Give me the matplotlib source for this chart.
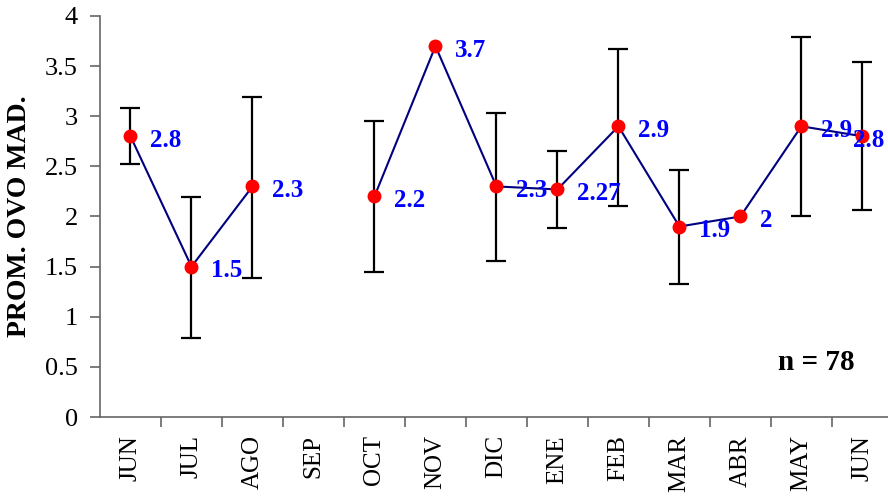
import numpy as np
import matplotlib
matplotlib.use('Agg')
import matplotlib.pyplot as plt

months = ['JUN', 'JUL', 'AGO', 'SEP', 'OCT', 'NOV', 'DIC', 'ENE',
          'FEB', 'MAR', 'ABR', 'MAY', 'JUN']
mean = [2.8, 1.5, 2.3, np.nan, 2.2, 3.7, 2.3, 2.27, 2.9, 1.9, 2.0, 2.9, 2.8]
low = [2.52, 0.79, 1.39, np.nan, 1.45, np.nan, 1.56, 1.89, 2.10, 1.33, np.nan, 2.0, 2.06]
high = [3.08, 2.19, 3.19, np.nan, 2.95, np.nan, 3.03, 2.65, 3.67, 2.46, np.nan, 3.79, 3.54]
labels = ['2.8', '1.5', '2.3', '', '2.2', '3.7', '2.3', '2.27', '2.9', '1.9', '2', '2.9', '2.8']
n_text = 'n = 78'

plt.rcParams['font.family'] = ['Liberation Serif', 'DejaVu Serif']

x = np.arange(len(months))
y = np.array(mean)
err = np.array([y - np.array(low), np.array(high) - y])

fig = plt.figure(figsize=(8.88, 4.98), dpi=100)
ax = fig.add_axes([100/888, 81/498, 1 - 100/888, 401/498])

ax.errorbar(x, y, yerr=err, fmt='none', ecolor='black', elinewidth=1.6,
            capsize=7, capthick=1.6, zorder=2)
ax.plot(x, y, color='#000080', lw=1.5, zorder=3)
ax.plot(x, y, 'o', color='red', ms=9, zorder=4)

for i, lab in enumerate(labels):
    if not lab:
        continue
    dx = 14 if i < len(labels) - 1 else -7
    ax.annotate(lab, (x[i], y[i]), xytext=(dx, -3), textcoords='offset points',
                ha='left', va='center', color='#0000ff', fontsize=18,
                fontweight='bold', zorder=5)

ax.text(0.86, 0.135, n_text, transform=ax.transAxes, ha='left', va='center',
        fontsize=21, fontweight='bold')

ax.set_xlim(-0.5, 12.42)
ax.set_ylim(0, 4)
ax.set_yticks(np.arange(0, 4.01, 0.5))
ax.set_yticklabels(['0', '0.5', '1', '1.5', '2', '2.5', '3', '3.5', '4'])
ax.set_xticks(x)
ax.set_xticklabels(months, rotation=90)
ax.set_xticks(np.arange(0.5, 12, 1), minor=True)
ax.tick_params(axis='x', which='major', length=0, pad=13, labelsize=18)
ax.tick_params(axis='x', which='minor', length=7, width=1.2, color='#666666')
ax.tick_params(axis='y', length=7, width=1.2, color='#666666', pad=9, labelsize=19)

for s in ['top', 'right']:
    ax.spines[s].set_visible(False)
for s in ['left', 'bottom']:
    ax.spines[s].set_color('#666666')
    ax.spines[s].set_linewidth(1.2)

ax.set_ylabel('PROM. OVO MAD.', fontsize=20, fontweight='bold', labelpad=9)

fig.savefig('out.png', dpi=100)
